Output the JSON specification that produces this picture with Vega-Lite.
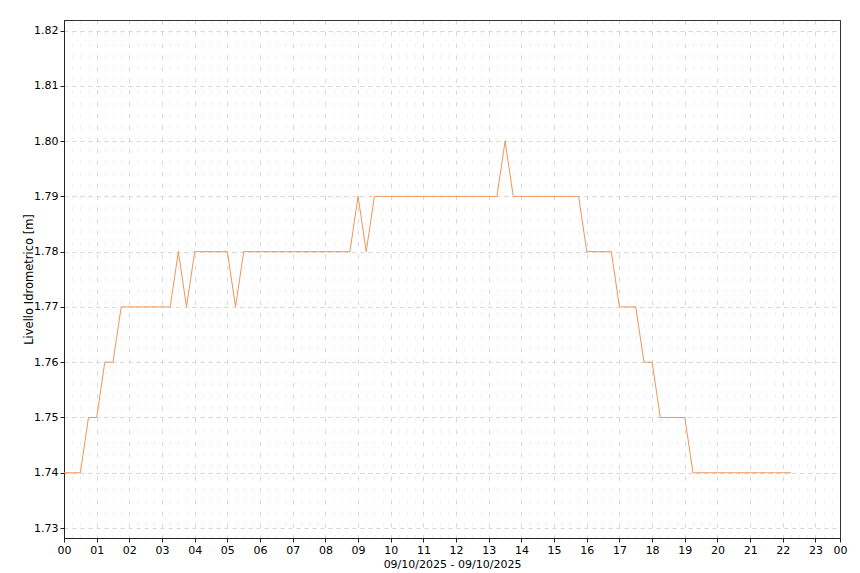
{
  "$schema": "https://vega.github.io/schema/vega-lite/v6.json",
  "width": 776,
  "height": 518,
  "autosize": {"type": "none"},
  "padding": {"left": 64, "top": 20, "right": 20, "bottom": 35},
  "background": "white",
  "config": {
    "view": {"stroke": "#333333", "strokeWidth": 1},
    "font": "DejaVu Sans",
    "axis": {
      "labelFont": "DejaVu Sans",
      "titleFont": "DejaVu Sans",
      "labelFontSize": 11,
      "titleFontSize": 11.5,
      "titleFontWeight": "normal",
      "labelColor": "#000000",
      "titleColor": "#000000",
      "domainColor": "#222222",
      "tickColor": "#222222",
      "tickSize": 4,
      "labelPadding": 2
    }
  },
  "data": {
    "values": [
      {"ora": 0.00, "v": 1.74},
      {"ora": 0.25, "v": 1.74},
      {"ora": 0.50, "v": 1.74},
      {"ora": 0.75, "v": 1.75},
      {"ora": 1.00, "v": 1.75},
      {"ora": 1.25, "v": 1.76},
      {"ora": 1.50, "v": 1.76},
      {"ora": 1.75, "v": 1.77},
      {"ora": 2.00, "v": 1.77},
      {"ora": 2.25, "v": 1.77},
      {"ora": 2.50, "v": 1.77},
      {"ora": 2.75, "v": 1.77},
      {"ora": 3.00, "v": 1.77},
      {"ora": 3.25, "v": 1.77},
      {"ora": 3.50, "v": 1.78},
      {"ora": 3.75, "v": 1.77},
      {"ora": 4.00, "v": 1.78},
      {"ora": 4.25, "v": 1.78},
      {"ora": 4.50, "v": 1.78},
      {"ora": 4.75, "v": 1.78},
      {"ora": 5.00, "v": 1.78},
      {"ora": 5.25, "v": 1.77},
      {"ora": 5.50, "v": 1.78},
      {"ora": 5.75, "v": 1.78},
      {"ora": 6.00, "v": 1.78},
      {"ora": 6.25, "v": 1.78},
      {"ora": 6.50, "v": 1.78},
      {"ora": 6.75, "v": 1.78},
      {"ora": 7.00, "v": 1.78},
      {"ora": 7.25, "v": 1.78},
      {"ora": 7.50, "v": 1.78},
      {"ora": 7.75, "v": 1.78},
      {"ora": 8.00, "v": 1.78},
      {"ora": 8.25, "v": 1.78},
      {"ora": 8.50, "v": 1.78},
      {"ora": 8.75, "v": 1.78},
      {"ora": 9.00, "v": 1.79},
      {"ora": 9.25, "v": 1.78},
      {"ora": 9.50, "v": 1.79},
      {"ora": 9.75, "v": 1.79},
      {"ora": 10.00, "v": 1.79},
      {"ora": 10.25, "v": 1.79},
      {"ora": 10.50, "v": 1.79},
      {"ora": 10.75, "v": 1.79},
      {"ora": 11.00, "v": 1.79},
      {"ora": 11.25, "v": 1.79},
      {"ora": 11.50, "v": 1.79},
      {"ora": 11.75, "v": 1.79},
      {"ora": 12.00, "v": 1.79},
      {"ora": 12.25, "v": 1.79},
      {"ora": 12.50, "v": 1.79},
      {"ora": 12.75, "v": 1.79},
      {"ora": 13.00, "v": 1.79},
      {"ora": 13.25, "v": 1.79},
      {"ora": 13.50, "v": 1.80},
      {"ora": 13.75, "v": 1.79},
      {"ora": 14.00, "v": 1.79},
      {"ora": 14.25, "v": 1.79},
      {"ora": 14.50, "v": 1.79},
      {"ora": 14.75, "v": 1.79},
      {"ora": 15.00, "v": 1.79},
      {"ora": 15.25, "v": 1.79},
      {"ora": 15.50, "v": 1.79},
      {"ora": 15.75, "v": 1.79},
      {"ora": 16.00, "v": 1.78},
      {"ora": 16.25, "v": 1.78},
      {"ora": 16.50, "v": 1.78},
      {"ora": 16.75, "v": 1.78},
      {"ora": 17.00, "v": 1.77},
      {"ora": 17.25, "v": 1.77},
      {"ora": 17.50, "v": 1.77},
      {"ora": 17.75, "v": 1.76},
      {"ora": 18.00, "v": 1.76},
      {"ora": 18.25, "v": 1.75},
      {"ora": 18.50, "v": 1.75},
      {"ora": 18.75, "v": 1.75},
      {"ora": 19.00, "v": 1.75},
      {"ora": 19.25, "v": 1.74},
      {"ora": 19.50, "v": 1.74},
      {"ora": 19.75, "v": 1.74},
      {"ora": 20.00, "v": 1.74},
      {"ora": 20.25, "v": 1.74},
      {"ora": 20.50, "v": 1.74},
      {"ora": 20.75, "v": 1.74},
      {"ora": 21.00, "v": 1.74},
      {"ora": 21.25, "v": 1.74},
      {"ora": 21.50, "v": 1.74},
      {"ora": 21.75, "v": 1.74},
      {"ora": 22.00, "v": 1.74},
      {"ora": 22.25, "v": 1.74}
    ]
  },
  "resolve": {"axis": {"x": "independent"}},
  "layer": [
    {
      "mark": {"type": "line", "strokeOpacity": 0},
      "encoding": {
        "x": {
          "field": "ora", "type": "quantitative",
          "scale": {"domain": [0, 23.75], "nice": false, "zero": false},
          "axis": {
            "orient": "top", "grid": true, "gridColor": "#f0f0f0", "gridDash": [4, 7.7],
            "labels": false, "ticks": false, "domain": true, "domainColor": "#333333", "title": null,
            "values": [0.25,0.5,0.75,1,1.25,1.5,1.75,2,2.25,2.5,2.75,3,3.25,3.5,3.75,4,4.25,4.5,4.75,5,5.25,5.5,5.75,6,6.25,6.5,6.75,7,7.25,7.5,7.75,8,8.25,8.5,8.75,9,9.25,9.5,9.75,10,10.25,10.5,10.75,11,11.25,11.5,11.75,12,12.25,12.5,12.75,13,13.25,13.5,13.75,14,14.25,14.5,14.75,15,15.25,15.5,15.75,16,16.25,16.5,16.75,17,17.25,17.5,17.75,18,18.25,18.5,18.75,19,19.25,19.5,19.75,20,20.25,20.5,20.75,21,21.25,21.5,21.75,22,22.25,22.5,22.75,23,23.25,23.5]
          }
        },
        "y": {
          "field": "v", "type": "quantitative",
          "scale": {"domain": [1.7282, 1.8219], "nice": false, "zero": false},
          "axis": {
            "title": "Livello Idrometrico [m]",
            "titleX": -30,
            "titleY": 259,
            "grid": true, "gridColor": "#d6d6d6", "gridDash": [4, 4],
            "values": [1.73, 1.74, 1.75, 1.76, 1.77, 1.78, 1.79, 1.80, 1.81, 1.82],
            "format": ".2f"
          }
        }
      }
    },
    {
      "mark": {"type": "line", "color": "#f0955a", "strokeWidth": 1, "interpolate": "linear"},
      "encoding": {
        "x": {
          "field": "ora", "type": "quantitative",
          "axis": {
            "orient": "bottom",
            "title": "09/10/2025 - 09/10/2025",
            "titlePadding": 3,
            "titleFontSize": 11,
            "grid": true, "gridColor": "#d8d8d8", "gridDash": [4, 7.7],
            "gridOpacity": {"condition": {"test": "datum.value == 23.75 || datum.value == 0", "value": 0}, "value": 1},
            "labelOverlap": false, "labelFlush": false,
            "values": [0,1,2,3,4,5,6,7,8,9,10,11,12,13,14,15,16,17,18,19,20,21,22,23,23.75],
            "labelExpr": "datum.value == 23.75 ? '00' : (datum.value < 10 ? '0' : '') + datum.value"
          }
        },
        "y": {
          "field": "v", "type": "quantitative"
        }
      }
    }
  ]
}
